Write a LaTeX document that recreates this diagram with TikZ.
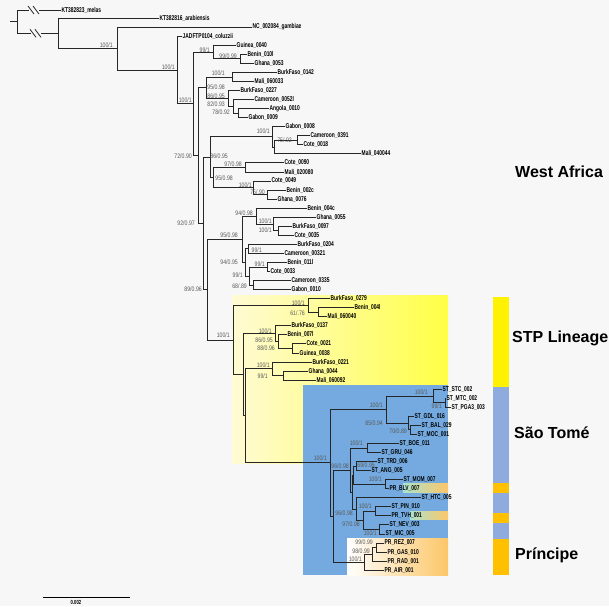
\documentclass[tikz,border=0pt]{standalone}
\usepackage{fontspec}
\setmainfont{Liberation Sans}
\newfontfamily\tipfont[FakeStretch=0.7]{Liberation Sans}
\newfontfamily\suppfont[FakeStretch=0.8]{Liberation Sans}
\usetikzlibrary{calc}
\definecolor{bgpaper}{RGB}{247,247,247}
\definecolor{stppale}{RGB}{255,251,212}
\definecolor{stpyellow}{RGB}{255,255,70}
\definecolor{stblue}{RGB}{116,170,223}
\definecolor{prorange}{RGB}{252,198,104}
\definecolor{prgreen}{RGB}{172,228,204}
\definecolor{barblue}{RGB}{143,170,220}
\definecolor{barorange}{RGB}{255,192,0}

\begin{document}
\begin{tikzpicture}[x=1pt,y=-1pt,
  branch/.style={draw=black!85,line width=0.8pt},
  tip/.style={anchor=west,inner sep=1pt,font=\tipfont\bfseries\fontsize{7}{8}\selectfont},
  supp/.style={anchor=east,inner sep=0pt,text=black!65,font=\suppfont\fontsize{6.5}{7}\selectfont},
  clade/.style={anchor=west,inner sep=0pt,font=\bfseries\fontsize{16}{18}\selectfont}]
	\useasboundingbox (0,0) rectangle (609,606);
	\fill[bgpaper] (0,0) rectangle (609,606);
	% highlighted clades
	\shade[left color=stppale,right color=stpyellow] (232,295) rectangle (448,463);
	\fill[stblue] (303,385) rectangle (448,575);
	\shade[left color=white,right color=prorange] (347,538) rectangle (448,575);
	\shade[left color=prgreen,right color=prorange] (403,483) rectangle (448,492);
	\shade[left color=prgreen,right color=prorange] (410,511) rectangle (448,519);
	% colour bar
	\fill[yellow] (493,297) rectangle (509,387);
	\fill[barblue] (493,387) rectangle (509,483);
	\fill[barorange] (493,483) rectangle (509,493);
	\fill[barblue] (493,493) rectangle (509,513);
	\fill[barorange] (493,513) rectangle (509,523);
	\fill[barblue] (493,523) rectangle (509,539);
	\fill[barorange] (493,539) rectangle (509,575);
	\node[clade] (westafrica) at (515,172) {West Africa};
	\node[clade] (stplineage) at (512,338) {STP Lineage};
	\node[clade] (saotome) at (514,433) {São Tomé};
	\node[clade] (principe) at (515,555) {Príncipe};
	% internal nodes
	\coordinate (rootstub) at (10,21.7);
	\coordinate (nR) at (17,21.7);
	\coordinate (nA) at (58,33.3);
	\coordinate (nB) at (117,48.5);
	\coordinate (nC) at (177,69.95);
	\coordinate (nD) at (193,103.75);
	\coordinate (nE) at (213,52);
	\coordinate (nE2) at (240,58.8);
	\coordinate (nG) at (198,155.5);
	\coordinate (nK) at (206,87.6);
	\coordinate (nN1) at (232,76.9);
	\coordinate (nN2) at (228,98.4);
	\coordinate (nN3) at (233,106.3);
	\coordinate (nN4) at (238,113.1);
	\coordinate (nI) at (203,223.4);
	\coordinate (nU) at (210,157.2);
	\coordinate (nP) at (272,136.8);
	\coordinate (nP2) at (274,147);
	\coordinate (nQ) at (297,140.2);
	\coordinate (nT) at (213,177.5);
	\coordinate (nR1) at (245,167.4);
	\coordinate (nS1) at (253,187.7);
	\coordinate (nS2) at (267,194.5);
	\coordinate (nL) at (207,289.6);
	\coordinate (nX) at (242,239.2);
	\coordinate (nW1) at (256,216);
	\coordinate (nW2) at (273,223.9);
	\coordinate (nW3) at (278,230.7);
	\coordinate (nX2) at (245,262.4);
	\coordinate (nY2) at (248,248.8);
	\coordinate (nX3) at (249,276);
	\coordinate (nY1) at (267,266.9);
	\coordinate (nZ1) at (253,285);
	\coordinate (nM) at (233,340.05);
	\coordinate (nM2) at (308,305.4);
	\coordinate (nM1) at (318,312.2);
	\coordinate (nN) at (243,374.7);
	\coordinate (nM5) at (275,333.7);
	\coordinate (nM4) at (278,341.6);
	\coordinate (nM3) at (292,348.4);
	\coordinate (nNb) at (245,415.75);
	\coordinate (nM7) at (272,368.7);
	\coordinate (nM6) at (283,375.5);
	\coordinate (nR0) at (330,462.8);
	\coordinate (nA3) at (386,409.45);
	\coordinate (nA1) at (433,395.9);
	\coordinate (nA2) at (445,402.7);
	\coordinate (nA4) at (408,423);
	\coordinate (nA5) at (410,429.8);
	\coordinate (nEE) at (333,516.1);
	\coordinate (nH) at (350,470);
	\coordinate (nH2) at (352,492);
	\coordinate (nB1) at (367,447.9);
	\coordinate (nB4) at (353,475.05);
	\coordinate (nB2) at (356,466);
	\coordinate (nB3) at (385,484.1);
	\coordinate (nC1) at (356,509);
	\coordinate (nC4) at (363,520.35);
	\coordinate (nC2) at (375,511.3);
	\coordinate (nC3) at (379,529.4);
	\coordinate (nP3) at (364,562.2);
	\coordinate (nPb) at (372,554.3);
	\coordinate (nPa) at (376,547.5);
	% tips
	\node[tip] (t01) at (60.5,10) {KT382823\_melas};
	\node[tip] (t02) at (158.5,18.05) {KT382816\_arabiensis};
	\node[tip] (t03) at (251.5,27.1) {NC\_002084\_gambiae};
	\node[tip] (t04) at (181.5,36.15) {JADFTP0104\_coluzzii};
	\node[tip] (t05) at (235.5,45.2) {Guinea\_0040};
	\node[tip] (t06) at (246.5,54.25) {Benin\_010l};
	\node[tip] (t07) at (253.5,63.3) {Ghana\_0053};
	\node[tip] (t08) at (276.5,72.35) {BurkFaso\_0142};
	\node[tip] (t09) at (253.5,81.4) {Mali\_060033};
	\node[tip] (t10) at (239.5,90.45) {BurkFaso\_0227};
	\node[tip] (t11) at (253.5,99.5) {Cameroon\_0052l};
	\node[tip] (t12) at (268.5,108.55) {Angola\_0010};
	\node[tip] (t13) at (247.5,117.6) {Gabon\_0009};
	\node[tip] (t14) at (284.5,126.65) {Gabon\_0008};
	\node[tip] (t15) at (309.5,135.7) {Cameroon\_0391};
	\node[tip] (t16) at (302.5,144.75) {Cote\_0018};
	\node[tip] (t17) at (360.5,153.8) {Mali\_040044};
	\node[tip] (t18) at (283.5,162.85) {Cote\_0090};
	\node[tip] (t19) at (283.5,171.9) {Mali\_020080};
	\node[tip] (t20) at (270.5,180.95) {Cote\_0049};
	\node[tip] (t21) at (285.5,190) {Benin\_002c};
	\node[tip] (t22) at (276.5,199.05) {Ghana\_0076};
	\node[tip] (t23) at (306.5,208.1) {Benin\_004c};
	\node[tip] (t24) at (315.5,217.15) {Ghana\_0055};
	\node[tip] (t25) at (291.5,226.2) {BurkFaso\_0097};
	\node[tip] (t26) at (293.5,235.25) {Cote\_0035};
	\node[tip] (t27) at (296.5,244.3) {BurkFaso\_0204};
	\node[tip] (t28) at (283.5,253.35) {Cameroon\_00321};
	\node[tip] (t29) at (286.5,262.4) {Benin\_011l};
	\node[tip] (t30) at (269.5,271.45) {Cote\_0033};
	\node[tip] (t31) at (290.5,280.5) {Cameroon\_0335};
	\node[tip] (t32) at (290.5,289.55) {Gabon\_0010};
	\node[tip] (t33) at (329.5,298.6) {BurkFaso\_0279};
	\node[tip] (t34) at (353.5,307.65) {Benin\_004l};
	\node[tip] (t35) at (326.5,316.7) {Mali\_060040};
	\node[tip] (t36) at (290.5,325.75) {BurkFaso\_0137};
	\node[tip] (t37) at (286.5,334.8) {Benin\_007l};
	\node[tip] (t38) at (305.5,343.85) {Cote\_0021};
	\node[tip] (t39) at (298.5,352.9) {Guinea\_0038};
	\node[tip] (t40) at (311.5,361.95) {BurkFaso\_0221};
	\node[tip] (t41) at (307.5,371) {Ghana\_0044};
	\node[tip] (t42) at (315.5,380.05) {Mali\_060092};
	\node[tip] (t43) at (441.5,389.1) {ST\_STC\_002};
	\node[tip] (t44) at (445.5,398.15) {ST\_MTC\_002};
	\node[tip] (t45) at (450.5,407.2) {ST\_PGA3\_003};
	\node[tip] (t46) at (413.5,416.25) {ST\_GDL\_016};
	\node[tip] (t47) at (420.5,425.3) {ST\_BAL\_029};
	\node[tip] (t48) at (416.5,434.35) {ST\_MOC\_001};
	\node[tip] (t49) at (398.5,443.4) {ST\_BOE\_011};
	\node[tip] (t50) at (380.5,452.45) {ST\_GRU\_046};
	\node[tip] (t51) at (376.5,461.5) {ST\_TRD\_006};
	\node[tip] (t52) at (370.5,470.55) {ST\_ANG\_005};
	\node[tip] (t53) at (402.5,479.6) {ST\_MOM\_007};
	\node[tip] (t54) at (388.5,488.65) {PR\_BLV\_007};
	\node[tip] (t55) at (420.5,497.7) {ST\_HTC\_005};
	\node[tip] (t56) at (390.5,506.75) {ST\_PIN\_010};
	\node[tip] (t57) at (390.5,515.8) {PR\_TVH\_001};
	\node[tip] (t58) at (388.5,524.85) {ST\_NEV\_003};
	\node[tip] (t59) at (384.5,533.9) {ST\_MIC\_005};
	\node[tip] (t60) at (383.5,542.95) {PR\_REZ\_007};
	\node[tip] (t61) at (386.5,552) {PR\_GAS\_010};
	\node[tip] (t62) at (386.5,561.05) {PR\_RAD\_001};
	\node[tip] (t63) at (383.5,570.1) {PR\_AIR\_001};
	% broken outgroup branches
	\coordinate (cutA1) at (29,10);
	\coordinate (cutA2) at (39,10);
	\coordinate (cutB1) at (31,33.3);
	\coordinate (cutB2) at (41,33.3);
	\draw[branch] (rootstub) -- (nR);
	\draw[branch] (nR) |- (cutA1) (cutA2) -- (t01.west);
	\draw[branch] (nR) |- (cutB1) (cutB2) -- (nA);
	\draw[branch] ($ (cutA1) + (-1,-4) $) -- ++(6,8) ($ (cutA1) + (4,-4) $) -- ++(6,8);
	\draw[branch] ($ (cutB1) + (-1,-4) $) -- ++(6,8) ($ (cutB1) + (4,-4) $) -- ++(6,8);
	% branches
	\draw[branch] (nA) |- (t02.west) (nA) |- (nB);
	\draw[branch] (nB) |- (t03.west) (nB) |- (nC);
	\draw[branch] (nC) |- (t04.west) (nC) |- (nD);
	\draw[branch] (nD) |- (nE) (nD) |- (nG);
	\draw[branch] (nE) |- (t05.west) (nE) |- (nE2);
	\draw[branch] (nE2) |- (t06.west) (nE2) |- (t07.west);
	\draw[branch] (nG) |- (nK) (nG) |- (nI);
	\draw[branch] (nK) |- (nN1) (nK) |- (nN2);
	\draw[branch] (nN1) |- (t08.west) (nN1) |- (t09.west);
	\draw[branch] (nN2) |- (t10.west) (nN2) |- (nN3);
	\draw[branch] (nN3) |- (t11.west) (nN3) |- (nN4);
	\draw[branch] (nN4) |- (t12.west) (nN4) |- (t13.west);
	\draw[branch] (nI) |- (nU) (nI) |- (nL);
	\draw[branch] (nU) |- (nP) (nU) |- (nT);
	\draw[branch] (nP) |- (t14.west) (nP) |- (nP2);
	\draw[branch] (nP2) |- (nQ) (nP2) |- (t17.west);
	\draw[branch] (nQ) |- (t15.west) (nQ) |- (t16.west);
	\draw[branch] (nT) |- (nR1) (nT) |- (nS1);
	\draw[branch] (nR1) |- (t18.west) (nR1) |- (t19.west);
	\draw[branch] (nS1) |- (t20.west) (nS1) |- (nS2);
	\draw[branch] (nS2) |- (t21.west) (nS2) |- (t22.west);
	\draw[branch] (nL) |- (nX) (nL) |- (nM);
	\draw[branch] (nX) |- (nW1) (nX) |- (nX2);
	\draw[branch] (nW1) |- (t23.west) (nW1) |- (nW2);
	\draw[branch] (nW2) |- (t24.west) (nW2) |- (nW3);
	\draw[branch] (nW3) |- (t25.west) (nW3) |- (t26.west);
	\draw[branch] (nX2) |- (nY2) (nX2) |- (nX3);
	\draw[branch] (nY2) |- (t27.west) (nY2) |- (t28.west);
	\draw[branch] (nX3) |- (nY1) (nX3) |- (nZ1);
	\draw[branch] (nY1) |- (t29.west) (nY1) |- (t30.west);
	\draw[branch] (nZ1) |- (t31.west) (nZ1) |- (t32.west);
	\draw[branch] (nM) |- (nM2) (nM) |- (nN);
	\draw[branch] (nM2) |- (t33.west) (nM2) |- (nM1);
	\draw[branch] (nM1) |- (t34.west) (nM1) |- (t35.west);
	\draw[branch] (nN) |- (nM5) (nN) |- (nNb);
	\draw[branch] (nM5) |- (t36.west) (nM5) |- (nM4);
	\draw[branch] (nM4) |- (t37.west) (nM4) |- (nM3);
	\draw[branch] (nM3) |- (t38.west) (nM3) |- (t39.west);
	\draw[branch] (nNb) |- (nM7) (nNb) |- (nR0);
	\draw[branch] (nM7) |- (t40.west) (nM7) |- (nM6);
	\draw[branch] (nM6) |- (t41.west) (nM6) |- (t42.west);
	\draw[branch] (nR0) |- (nA3) (nR0) |- (nEE);
	\draw[branch] (nA3) |- (nA1) (nA3) |- (nA4);
	\draw[branch] (nA1) |- (t43.west) (nA1) |- (nA2);
	\draw[branch] (nA2) |- (t44.west) (nA2) |- (t45.west);
	\draw[branch] (nA4) |- (t46.west) (nA4) |- (nA5);
	\draw[branch] (nA5) |- (t47.west) (nA5) |- (t48.west);
	\draw[branch] (nEE) |- (nH) (nEE) |- (nP3);
	\draw[branch] (nH) |- (nB1) (nH) |- (nH2);
	\draw[branch] (nB1) |- (t49.west) (nB1) |- (t50.west);
	\draw[branch] (nH2) |- (nB4) (nH2) |- (nC1);
	\draw[branch] (nB4) |- (nB2) (nB4) |- (nB3);
	\draw[branch] (nB2) |- (t51.west) (nB2) |- (t52.west);
	\draw[branch] (nB3) |- (t53.west) (nB3) |- (t54.west);
	\draw[branch] (nC1) |- (t55.west) (nC1) |- (nC4);
	\draw[branch] (nC4) |- (nC2) (nC4) |- (nC3);
	\draw[branch] (nC2) |- (t56.west) (nC2) |- (t57.west);
	\draw[branch] (nC3) |- (t58.west) (nC3) |- (t59.west);
	\draw[branch] (nP3) |- (nPb) (nP3) |- (t63.west);
	\draw[branch] (nPb) |- (nPa) (nPb) |- (t62.west);
	\draw[branch] (nPa) |- (t60.west) (nPa) |- (t61.west);
	% support values
	\node[supp] (sB) at (113,45) {100/1};
	\node[supp] (sC) at (175,67) {100/1};
	\node[supp] (sD) at (192,100) {100/1};
	\node[supp] (sE) at (210,50) {99/1};
	\node[supp] (sE2) at (237,56) {99/0.99};
	\node[supp] (sN1) at (225,73.5) {100/1};
	\node[supp] (sK) at (225,87) {95/0.98};
	\node[supp] (sN2) at (225,96) {86/0.95};
	\node[supp] (sN3) at (225,104) {82/0.93};
	\node[supp] (sN4) at (230,112) {78/0.92};
	\node[supp] (sP) at (270,131) {100/1};
	\node[supp] (sQ) at (292,140) {75/.92};
	\node[supp] (sG) at (192,156) {72/0.90};
	\node[supp] (sU) at (228,156) {86/0.95};
	\node[supp] (sR1) at (242,164) {97/0.98};
	\node[supp] (sT) at (233,178) {95/0.98};
	\node[supp] (sS1) at (252,185) {100/1};
	\node[supp] (sS2) at (265,192) {75/.90};
	\node[supp] (sW1) at (253,213) {94/0.98};
	\node[supp] (sW2) at (272,221) {100/1};
	\node[supp] (sW3) at (272,230) {100/1};
	\node[supp] (sI) at (195,223) {92/0.97};
	\node[supp] (sX) at (238,235) {95/0.98};
	\node[supp] (sY2) at (262,250) {99/1};
	\node[supp] (sX2) at (238,262) {94/0.95};
	\node[supp] (sY1) at (265,264) {99/1};
	\node[supp] (sX3) at (243,275) {99/1};
	\node[supp] (sZ1) at (247,286) {68/.89};
	\node[supp] (sL) at (202,289) {89/0.96};
	\node[supp] (sM) at (230,335) {100/1};
	\node[supp] (sM2) at (305,303) {100/1};
	\node[supp] (sM1) at (305,313) {61/.76};
	\node[supp] (sM5) at (272,331) {100/1};
	\node[supp] (sM4) at (273,340) {86/0.95};
	\node[supp] (sM3) at (275,348) {88/0.96};
	\node[supp] (sM7) at (270,365) {100/1};
	\node[supp] (sM6) at (268,376) {99/1};
	\node[supp] (sR0) at (327,458) {100/1};
	\node[supp] (sA1) at (428,392) {100/1};
	\node[supp] (sA2) at (442,406) {99/1};
	\node[supp] (sA3) at (383,405) {100/1};
	\node[supp] (sA4) at (383,423) {85/0.94};
	\node[supp] (sA5) at (407,431) {70/0.89};
	\node[supp] (sB1) at (363,443) {100/1};
	\node[supp] (sH) at (349,466) {96/0.98};
	\node[supp] (sB2) at (375,465) {69/0.95};
	\node[supp] (sB3) at (382,479) {100/1};
	\node[supp] (sC1) at (353,513) {96/0.98};
	\node[supp] (sC2) at (372,506) {100/1};
	\node[supp] (sC4) at (360,524) {97/0.98};
	\node[supp] (sC3) at (377,533) {100/1};
	\node[supp] (sPa) at (373,542) {99/0.99};
	\node[supp] (sPb) at (370,551) {98/0.99};
	\node[supp] (sP3) at (362,559) {100/1};
	% scale bar
	\coordinate (scaleL) at (43,597);
	\coordinate (scaleR) at (130,597);
	\draw[line width=1pt] (scaleL) -- (scaleR);
	\node[font=\tipfont\bfseries\fontsize{6}{7}\selectfont,inner sep=0pt] (scalelab) at (76,602.5) {0.002};
\end{tikzpicture}
\end{document}
